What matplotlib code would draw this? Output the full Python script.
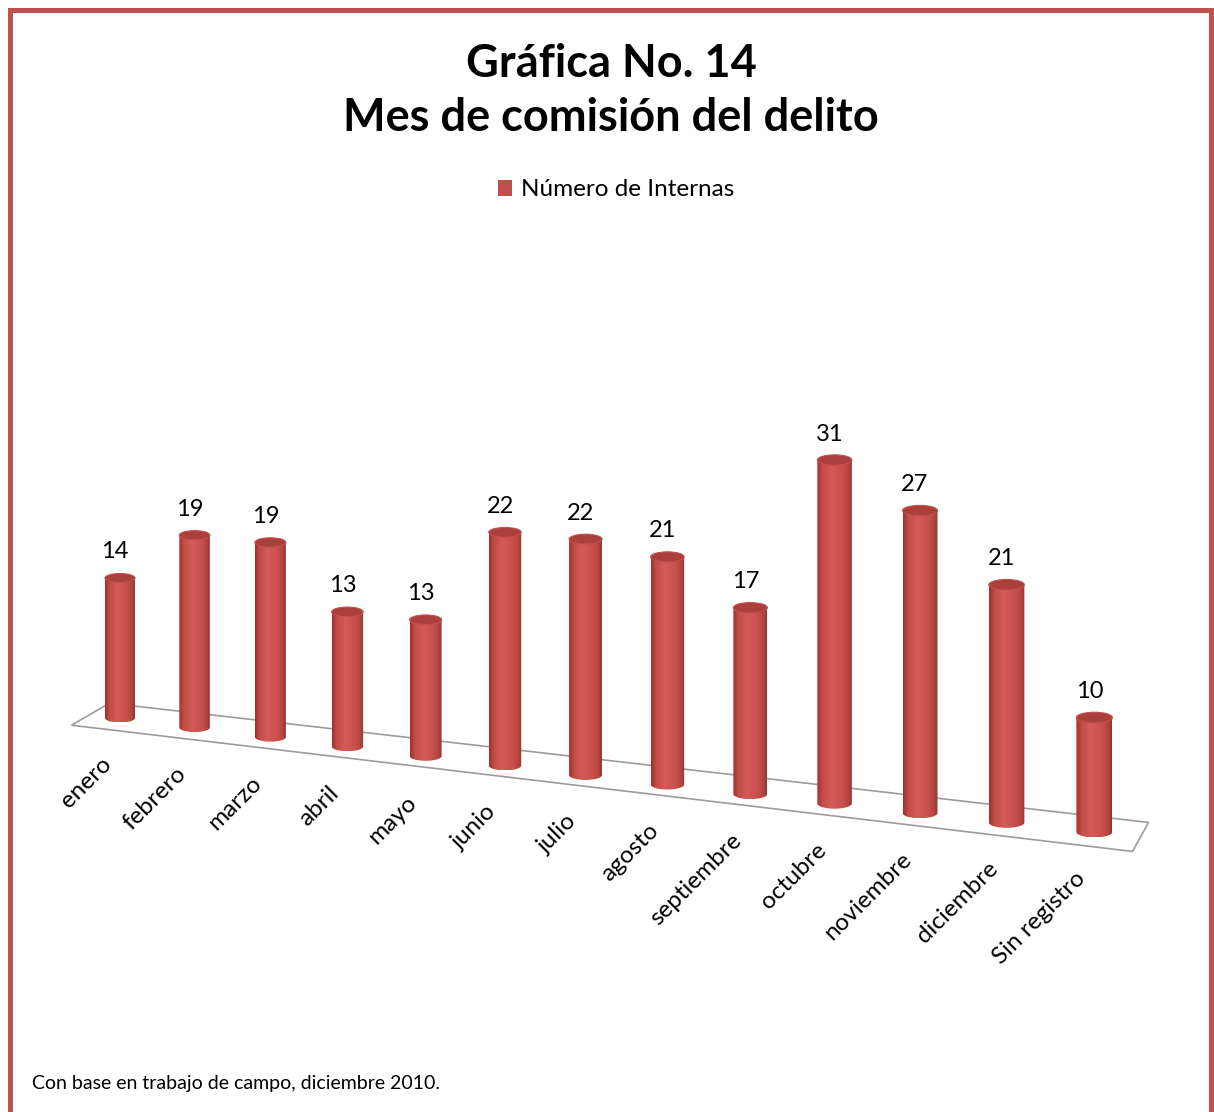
import numpy as np
import matplotlib.pyplot as plt
from matplotlib.patches import PathPatch, Ellipse, Polygon, Patch
from matplotlib.path import Path
from matplotlib.colors import LinearSegmentedColormap

plt.rcParams['font.family'] = ['Lato', 'DejaVu Sans']

# datos de la grafica
meses = ['enero', 'febrero', 'marzo', 'abril', 'mayo', 'junio', 'julio',
         'agosto', 'septiembre', 'octubre', 'noviembre', 'diciembre', 'Sin registro']
internas = [14, 19, 19, 13, 13, 22, 22, 21, 17, 31, 27, 21, 10]

titulo = 'Gráfica No. 14\nMes de comisión del delito'
serie = 'Número de Internas'
fuente = 'Con base en trabajo de campo, diciembre 2010.'

rojo = '#c0504d'

# proyeccion "3D" sencilla: indice de categoria -> posicion en pixeles
def centro(i):
    return 120 + 74 * i + 0.6 * i * i, 718 + 9.5 * i

def escala(i):
    return 10 + 0.12 * i

def ancho(i):
    return 30 + 0.5 * i

i0, i1 = -0.4, 12.52
def media_prof(i):
    t = (i - i0) / (i1 - i0)
    return 19 - 11 * t, -11 - 3.5 * t

fig = plt.figure(figsize=(12.14, 11.12), dpi=100)
ax = fig.add_axes([0, 0, 1, 1])
ax.axis('off')

# piso
esquinas = []
for i, s in [(i0, -1), (i1, -1), (i1, 1), (i0, 1)]:
    cx, cy = centro(i)
    dx, dy = media_prof(i)
    esquinas.append((cx + s * dx, cy + s * dy))
ax.add_patch(Polygon(esquinas, closed=True, facecolor='white', edgecolor='#9c9c9c', lw=1.2, zorder=1))

cmap = LinearSegmentedColormap.from_list('cil', [
    (0.0, '#9a3431'), (0.15, '#c24c48'), (0.4, '#d45b57'),
    (0.7, '#ca524e'), (0.9, '#b6433f'), (1.0, '#9a3431')])
grad = np.linspace(0, 1, 64).reshape(1, -1)

for i, (mes, v) in enumerate(zip(meses, internas)):
    xc, yb = centro(i)
    w = ancho(i)
    eh = 0.3 * w
    yt = yb - v * escala(i)
    t = np.linspace(np.pi, 0, 30)
    verts = [(xc - w / 2, yt)] + list(zip(xc + w / 2 * np.cos(t), yb + eh / 2 * np.sin(t)))
    verts += [(xc + w / 2, yt), (xc - w / 2, yt)]
    cuerpo = PathPatch(Path(verts, closed=True), facecolor='none', edgecolor='none')
    ax.add_patch(cuerpo)
    im = ax.imshow(grad, cmap=cmap, extent=[xc - w / 2, xc + w / 2, yb + eh / 2, yt],
                   aspect='auto', zorder=3, interpolation='bilinear')
    im.set_clip_path(cuerpo)
    ax.add_patch(Ellipse((xc, yt), w, eh, facecolor='#aa403c', edgecolor='#c4504c', lw=0.8, zorder=4))
    ax.text(xc - 5, yt - 26, str(v), ha='center', va='center', fontsize=17, color='black')
    ax.text(xc - 12, yb + 43, mes, rotation=45, rotation_mode='anchor',
            ha='right', va='center', fontsize=17.5, color='black')

ax.text(611, 91, titulo, ha='center', va='center', fontsize=32.5, fontweight='bold',
        linespacing=1.36)

ax.legend(handles=[Patch(facecolor=rojo, label=serie)], loc='center',
          bbox_to_anchor=(616 / 1214, 1 - 190 / 1112), frameon=False, fontsize=17.5,
          handlelength=0.6, handleheight=0.6, handletextpad=0.35)

ax.text(32, 1084, fuente, ha='left', va='center', fontsize=14)

# marco
ax.plot([9.5, 9.5, 1210.5, 1210.5], [1112, 9.5, 9.5, 1112], color=rojo, lw=3.6,
        solid_joinstyle='miter', clip_on=False, zorder=10)

ax.set_xlim(0, 1214)
ax.set_ylim(1112, 0)
fig.savefig('out.png', dpi=100, facecolor='white')
